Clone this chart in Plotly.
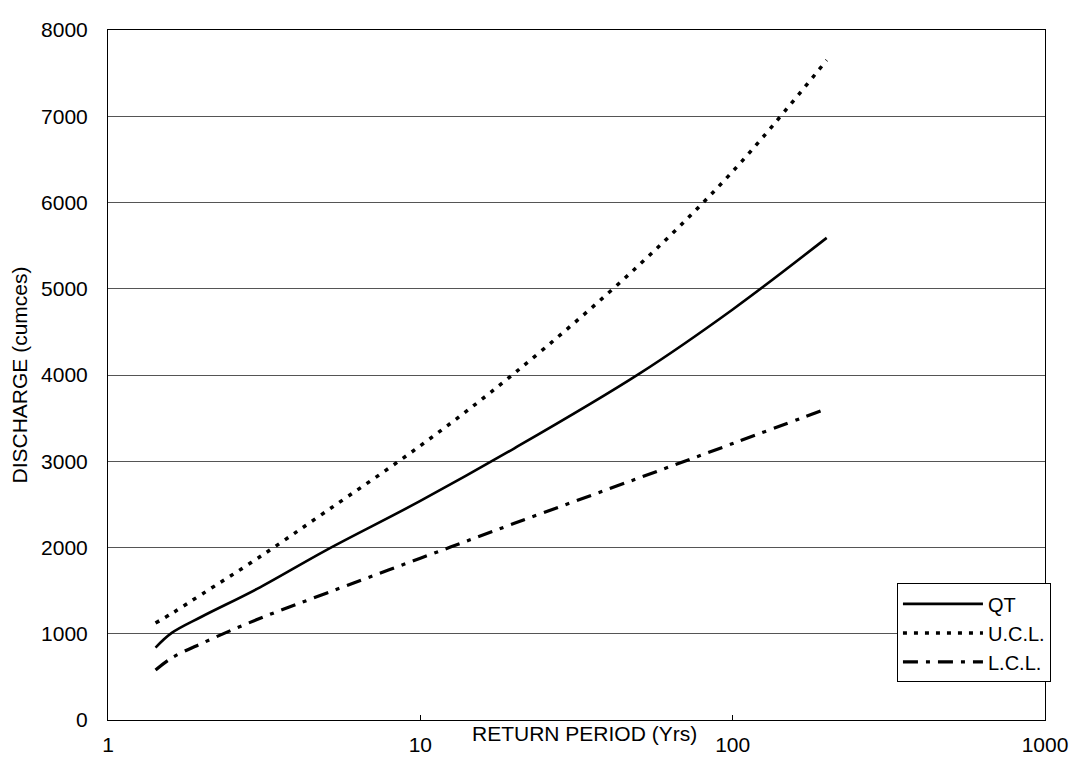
import plotly.graph_objects as go

# Return periods (years)
return_period = [1.42, 1.6, 2, 3, 5, 10, 20, 50, 100, 200]
# Discharge (cumecs)
qt = [840, 1010, 1200, 1520, 1970, 2540, 3150, 4010, 4760, 5590]
ucl = [1125, 1235, 1460, 1870, 2420, 3180, 4020, 5270, 6360, 7650]
lcl = [580, 720, 890, 1165, 1470, 1875, 2280, 2805, 3205, 3610]

x_ticks = [1, 10, 100, 1000]
y_ticks = list(range(0, 8001, 1000))

FONT = "Liberation Sans, Arial, sans-serif"
FS = 21

fig = go.Figure()
fig.add_trace(go.Scatter(x=return_period, y=qt, name="QT", mode="lines",
                         line=dict(color="black", width=2.6, shape="spline")))
fig.add_trace(go.Scatter(x=return_period, y=ucl, name="U.C.L.", mode="lines",
                         line=dict(color="black", width=3.5, dash="4px,7px", shape="spline")))
fig.add_trace(go.Scatter(x=return_period, y=lcl, name="L.C.L.", mode="lines",
                         line=dict(color="black", width=3.2, dash="15px,8px,4px,8px", shape="spline")))

fig.update_layout(
    width=1082, height=772,
    margin=dict(l=100, r=45, t=10, b=60),
    paper_bgcolor="white", plot_bgcolor="white",
    font=dict(family=FONT, size=FS, color="black"),
    showlegend=True,
    legend=dict(x=0.842, y=0.198, xanchor="left", yanchor="top",
                bgcolor="white", bordercolor="black", borderwidth=1,
                font=dict(family=FONT, size=20, color="black"),
                itemwidth=80, tracegroupgap=0),
    xaxis=dict(type="log", range=[0, 3], tickvals=x_ticks,
               ticktext=[str(v) for v in x_ticks],
               showgrid=False, zeroline=False,
               showline=True, linecolor="black", linewidth=1, mirror=True,
               ticks="inside", ticklen=5, tickcolor="black",
               ticklabelstandoff=6, ticklabeloverflow="allow",
               tickfont=dict(family=FONT, size=FS, color="black")),
    yaxis=dict(range=[0, 8000], tickvals=y_ticks,
               showgrid=True, gridcolor="#555555", gridwidth=1,
               zeroline=False,
               showline=True, linecolor="black", linewidth=1, mirror=True,
               ticks="", ticklabelstandoff=15, ticklabeloverflow="allow",
               tickfont=dict(family=FONT, size=FS, color="black"),
               title=dict(text="DISCHARGE (cumces)", standoff=8,
                          font=dict(family=FONT, size=FS, color="black"))),
    annotations=[dict(text="RETURN PERIOD (Yrs)", xref="paper", yref="paper",
                      x=0.509, y=0, xanchor="center", yanchor="top",
                      showarrow=False,
                      font=dict(family=FONT, size=FS, color="black"))],
)

fig.write_html("out.html")
